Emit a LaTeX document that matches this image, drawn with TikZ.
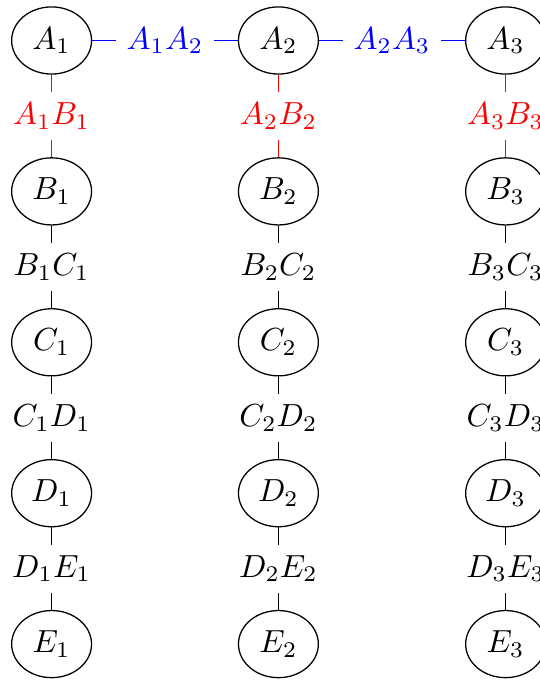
\documentclass[tikz,border=0pt]{standalone}
\usetikzlibrary{shapes.geometric}
\begin{document}
\begin{tikzpicture}[x=0.3129pt,y=-0.3129pt,
  vnode/.style={draw,ellipse,inner sep=0pt,minimum width=25pt,minimum height=21pt},
  lab/.style={fill=white}]
\useasboundingbox (0,0) rectangle (539,680);
\foreach \i/\x in {1/51.6,2/278.4,3/505.6}{
  \foreach \L/\y in {A/40.5,B/191.4,C/342.3,D/493.2,E/644.1}{
    \node[vnode] (\L\i) at (\x,\y) {$\L_\i$};
  }
}
\foreach \i in {1,2,3}{
  \draw[red] (A\i) -- node[lab]{$A_\i B_\i$} (B\i);
  \draw (B\i) -- node[lab]{$B_\i C_\i$} (C\i);
  \draw (C\i) -- node[lab]{$C_\i D_\i$} (D\i);
  \draw (D\i) -- node[lab]{$D_\i E_\i$} (E\i);
}
\draw[blue] (A1) -- node[lab]{$A_1A_2$} (A2);
\draw[blue] (A2) -- node[lab]{$A_2A_3$} (A3);
\end{tikzpicture}
\end{document}
